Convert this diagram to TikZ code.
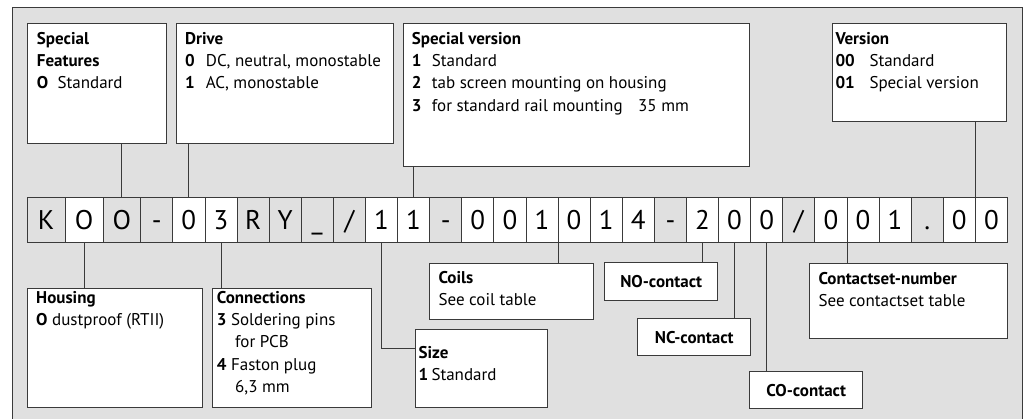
\documentclass[tikz,border=0pt]{standalone}
\usepackage{fontspec}
\setmainfont{PT Sans}
\usepackage{tikz}
\usetikzlibrary{positioning,calc}

\definecolor{bggray}{HTML}{E0E0E0}
\definecolor{linegray}{HTML}{3A3A3A}
\newcommand{\infolines}[1]{\begin{tabular}[t]{@{}l@{}}#1\end{tabular}}

\begin{document}
\begin{tikzpicture}[x=1pt,y=-1pt,
	cell/.style={draw=linegray,line width=0.8pt,minimum height=45,
		inner sep=0,text height=19.5,text depth=0,
		font=\fontsize{27}{30}\selectfont},
	infobox/.style={draw=linegray,line width=0.8pt,fill=white,
		anchor=north west,inner sep=0,
		font=\fontsize{17}{22.3}\selectfont\bfseries},
	infotext/.style={anchor=base west,inner sep=0,
		font=\fontsize{17}{22.3}\selectfont},
	link/.style={draw=linegray,line width=0.8pt}]
	\clip (0,0) rectangle (1032,418);
	\draw[linegray,line width=0.8pt,fill=bggray] (12,7.5) rectangle (1022,430);

	% code row
	\foreach \ch/\fc [count=\i] in {K/bggray,O/white,O/bggray,-/bggray,
		0/white,3/white,R/bggray,Y/bggray,\_/bggray,\slash/bggray,
		1/white,1/white,-/bggray,0/white,0/white,1/white,0/white,1/white,
		4/white,-/bggray,2/white,0/white,0/white,\slash/bggray,0/white,
		0/white,1/white,./bggray,0/white,0/white} {
		\pgfmathsetmacro{\w}{\i<4 ? 37.8 : 32.1}
		\pgfmathsetmacro{\cx}{\i<4 ? 27.3+37.8*(\i-0.5) : 140.7+32.1*(\i-3.5)}
		\node[cell,fill=\fc,minimum width=\w] (c\i) at (\cx,219.5) {\ch};
	}

	% boxes above
	\node[infobox,minimum width=138.4,minimum height=120] 
		  (sf) at (27.3,23.3) {};
	\node[infotext] at ([shift={(9.4,20.7)}]sf.north west) 
		  {\infolines{\textbf{Special}\\\textbf{Features}\\
		   \makebox[20.7pt][l]{\textbf{O}}Standard}};
	\node[infobox,minimum width=217,minimum height=120] 
		  (drive) at (176.3,23.3) {};
	\node[infotext] at ([shift={(8.7,20.7)}]drive.north west) 
		  {\infolines{\textbf{Drive}\\
		   \makebox[20.7pt][l]{\textbf{0}}DC, neutral, monostable\\
		   \makebox[20.7pt][l]{\textbf{1}}AC, monostable}};
	\node[infobox,minimum width=346.3,minimum height=142.7] 
		  (sv) at (402.7,23.3) {};
	\node[infotext] at ([shift={(9,21)}]sv.north west) 
		  {\infolines{\textbf{Special version}\\
		   \makebox[20pt][l]{\textbf{1}}Standard\\
		   \makebox[20pt][l]{\textbf{2}}tab screen mounting on housing\\
		   \makebox[20pt][l]{\textbf{3}}for standard rail mounting\hspace{11pt} 35 mm}};
	\node[infobox,minimum width=173.7,minimum height=97.4] 
		  (ver) at (832.3,23.3) {};
	\node[infotext] at ([shift={(3,21)}]ver.north west) 
		  {\infolines{\textbf{Version}\\
		   \makebox[34pt][l]{\textbf{00}}Standard\\
		   \makebox[34pt][l]{\textbf{01}}Special version}};

	% boxes below
	\node[infobox,minimum width=175,minimum height=119] 
		  (housing) at (27.3,288.3) {};
	\node[infotext] at ([shift={(8.7,15)}]housing.north west) 
		  {\infolines{\textbf{Housing}\\\textbf{O} dustproof (RTII)}};
	\node[infobox,minimum width=159,minimum height=119] 
		  (conn) at (211.7,288.3) {};
	\node[infotext] at ([shift={(5,15)}]conn.north west) 
		  {\infolines{\textbf{Connections}\\
		   \textbf{3} Soldering pins\\\hspace{18.3pt}for PCB\\
		   \textbf{4} Faston plug\\\hspace{18.3pt}6,3 mm}};
	\node[infobox,minimum width=163.2,minimum height=55.7] 
		  (coils) at (429.3,263.3) {};
	\node[infotext] at ([shift={(9,20)}]coils.north west) 
		  {\infolines{\textbf{Coils}\\See coil table}};
	\node[infobox,minimum width=131.7,minimum height=78] 
		  (size) at (415,329.3) {};
	\node[infotext] at ([shift={(3.3,29)}]size.north west) 
		  {\infolines{\textbf{Size}\\\makebox[13pt][l]{\textbf{1}}Standard}};
	\node[infobox,minimum width=113,minimum height=38] 
		  (no) at (604.3,262) {NO-contact};
	\node[infobox,minimum width=113,minimum height=37] 
		  (nc) at (637.3,318.3) {NC-contact};
	\node[infobox,minimum width=113,minimum height=37] 
		  (co) at (749.3,371.3) {CO-contact};
	\node[infobox,minimum width=197.4,minimum height=75.6] 
		  (cs) at (809.3,262.7) {};
	\node[infotext] at ([shift={(9,21.3)}]cs.north west) 
		  {\infolines{\textbf{Contactset-number}\\See contactset table}};

	\draw[link] (c3.north |- sf.south) -- (c3.north);
	\draw[link] (c5.north |- drive.south) -- (c5.north);
	\draw[link] (c12.north |- sv.south) -- (c12.north);
	\draw[link] (c29.north east |- ver.south) -- (c29.north east);
	\draw[link] (c2.south) -- (c2.south |- housing.north);
	\draw[link] (c6.south) -- (c6.south |- conn.north);
	\draw[link] (c11.south) |- ([shift={(0,19)}]size.north west);
	\draw[link] (c16.south east) -- (c16.south east |- coils.north);
	\draw[link] (c21.south) -- (c21.south |- no.north);
	\draw[link] (c22.south) -- (c22.south |- nc.north);
	\draw[link] (c23.south) -- (c23.south |- co.north);
	\draw[link] (c25.south east) -- (c25.south east |- cs.north);
\end{tikzpicture}
\end{document}
